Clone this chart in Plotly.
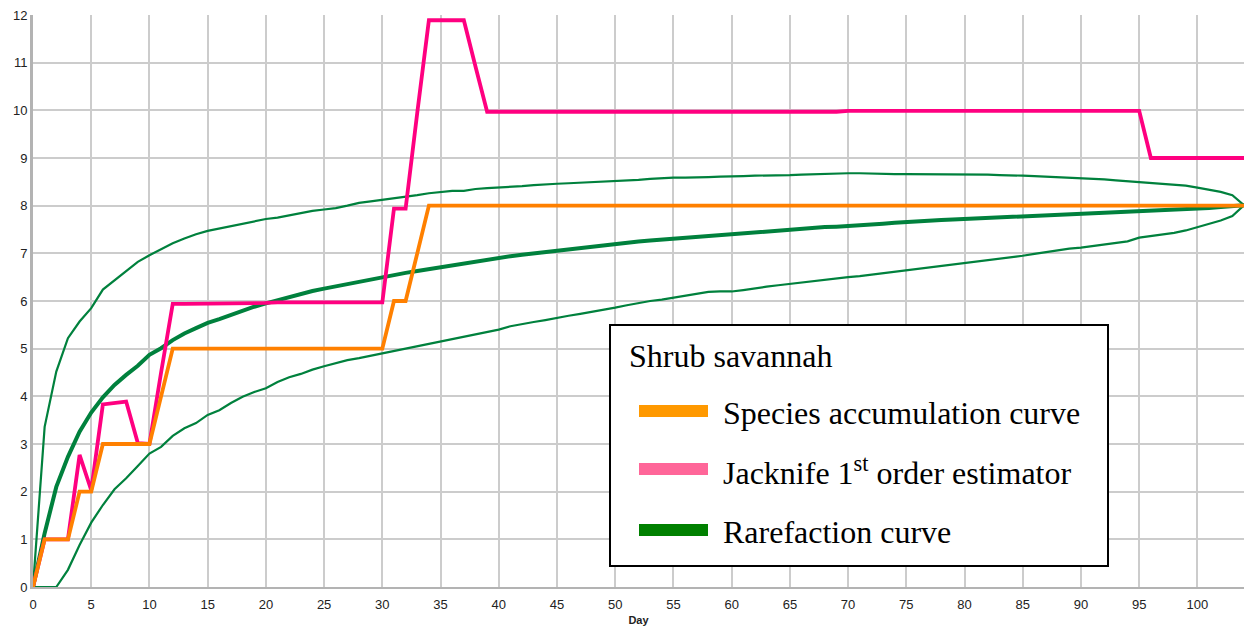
import plotly.graph_objects as go

days = list(range(0, 105))

species_accumulation = [
    0, 1, 1, 1, 2, 2, 3, 3, 3, 3, 3, 4, 5, 5, 5, 5, 5, 5, 5, 5,
    5, 5, 5, 5, 5, 5, 5, 5, 5, 5, 5, 6, 6, 7, 8, 8, 8, 8, 8, 8,
    8, 8, 8, 8, 8, 8, 8, 8, 8, 8, 8, 8, 8, 8, 8, 8, 8, 8, 8, 8,
    8, 8, 8, 8, 8, 8, 8, 8, 8, 8, 8, 8, 8, 8, 8, 8, 8, 8, 8, 8,
    8, 8, 8, 8, 8, 8, 8, 8, 8, 8, 8, 8, 8, 8, 8, 8, 8, 8, 8, 8,
    8, 8, 8, 8, 8,
]

jacknife_1st = [
    0, 1, 1, 1, 2.77, 2.03, 3.83, 3.86, 3.89, 3.02, 3.0, 4.5, 5.94, 5.94, 5.94, 5.96, 5.96, 5.96, 5.96, 5.96,
    5.96, 5.97, 5.97, 5.97, 5.97, 5.97, 5.97, 5.97, 5.97, 5.97, 5.97, 7.94, 7.94, 9.95, 11.89, 11.89, 11.89, 11.89, 10.92, 9.97,
    9.97, 9.97, 9.97, 9.97, 9.97, 9.97, 9.97, 9.97, 9.97, 9.97, 9.97, 9.97, 9.97, 9.97, 9.97, 9.97, 9.97, 9.97, 9.97, 9.97,
    9.97, 9.97, 9.97, 9.97, 9.97, 9.97, 9.97, 9.97, 9.97, 9.97, 9.99, 9.99, 9.99, 9.99, 9.99, 9.99, 9.99, 9.99, 9.99, 9.99,
    9.99, 9.99, 9.99, 9.99, 9.99, 9.99, 9.99, 9.99, 9.99, 9.99, 9.99, 9.99, 9.99, 9.99, 9.99, 9.99, 9.0, 9.0, 9.0, 9.0,
    9.0, 9.0, 9.0, 9.0, 9.0,
]

rarefaction_mean = [
    0, 1.13, 2.10, 2.73, 3.26, 3.66, 3.98, 4.24, 4.45, 4.64, 4.87, 5.01, 5.18, 5.32, 5.43, 5.54, 5.62, 5.71, 5.81, 5.88,
    5.95, 6.02, 6.09, 6.15, 6.21, 6.26, 6.31, 6.36, 6.41, 6.45, 6.50, 6.55, 6.59, 6.63, 6.67, 6.72, 6.76, 6.79, 6.83, 6.87,
    6.91, 6.94, 6.97, 7.00, 7.03, 7.06, 7.09, 7.11, 7.14, 7.16, 7.19, 7.22, 7.25, 7.27, 7.29, 7.31, 7.33, 7.35, 7.37, 7.39,
    7.40, 7.42, 7.44, 7.46, 7.48, 7.50, 7.51, 7.53, 7.55, 7.56, 7.57, 7.59, 7.61, 7.62, 7.64, 7.66, 7.67, 7.68, 7.70, 7.71,
    7.72, 7.73, 7.74, 7.76, 7.77, 7.79, 7.80, 7.81, 7.82, 7.83, 7.84, 7.85, 7.86, 7.87, 7.88, 7.89, 7.90, 7.91, 7.92, 7.93,
    7.94, 7.95, 7.97, 7.99, 8.01,
]

rarefaction_upper = [
    0, 3.36, 4.52, 5.22, 5.57, 5.85, 6.24, 6.43, 6.63, 6.82, 6.96, 7.09, 7.21, 7.31, 7.40, 7.47, 7.52, 7.58, 7.63, 7.68,
    7.72, 7.75, 7.80, 7.85, 7.89, 7.92, 7.95, 8.00, 8.06, 8.09, 8.12, 8.16, 8.18, 8.22, 8.26, 8.29, 8.31, 8.31, 8.35, 8.37,
    8.38, 8.39, 8.41, 8.43, 8.45, 8.46, 8.47, 8.48, 8.49, 8.50, 8.51, 8.52, 8.54, 8.56, 8.58, 8.59, 8.59, 8.59, 8.60, 8.61,
    8.61, 8.62, 8.63, 8.63, 8.63, 8.64, 8.65, 8.66, 8.67, 8.68, 8.68, 8.68, 8.67, 8.66, 8.66, 8.66, 8.66, 8.66, 8.66, 8.66,
    8.66, 8.66, 8.65, 8.64, 8.64, 8.63, 8.62, 8.61, 8.60, 8.58, 8.57, 8.56, 8.55, 8.53, 8.51, 8.49, 8.47, 8.45, 8.44, 8.42,
    8.38, 8.34, 8.29, 8.22, 8.01,
]

rarefaction_lower = [
    0, 0, 0, 0.36, 0.88, 1.35, 1.72, 2.05, 2.28, 2.54, 2.80, 2.94, 3.17, 3.33, 3.44, 3.61, 3.71, 3.86, 3.99, 4.09,
    4.17, 4.30, 4.40, 4.47, 4.56, 4.63, 4.69, 4.76, 4.80, 4.85, 4.91, 4.96, 5.01, 5.06, 5.11, 5.16, 5.21, 5.26, 5.31, 5.35,
    5.40, 5.47, 5.52, 5.56, 5.60, 5.65, 5.69, 5.73, 5.77, 5.81, 5.86, 5.91, 5.96, 6.00, 6.03, 6.07, 6.11, 6.15, 6.19, 6.20,
    6.20, 6.23, 6.27, 6.30, 6.33, 6.36, 6.39, 6.42, 6.45, 6.47, 6.50, 6.52, 6.55, 6.58, 6.61, 6.64, 6.68, 6.71, 6.74, 6.77,
    6.80, 6.83, 6.86, 6.89, 6.92, 6.95, 6.99, 7.03, 7.07, 7.10, 7.12, 7.15, 7.18, 7.21, 7.25, 7.33, 7.36, 7.40, 7.43, 7.48,
    7.55, 7.62, 7.69, 7.78, 8.01,
]

legend_title = "Shrub savannah"
legend_labels = ["Species accumulation curve", "Jacknife 1<sup>st</sup> order estimator", "Rarefaction curve"]
legend_colors = ["#ff9900", "#ff6699", "#008000"]

GREEN = "#00813d"
fig = go.Figure()
fig.add_trace(go.Scatter(x=days, y=rarefaction_upper, mode="lines", line=dict(color=GREEN, width=2.2), showlegend=False))
fig.add_trace(go.Scatter(x=days, y=rarefaction_lower, mode="lines", line=dict(color=GREEN, width=2.2), showlegend=False))
fig.add_trace(go.Scatter(x=days, y=rarefaction_mean, mode="lines", line=dict(color=GREEN, width=4), showlegend=False))
fig.add_trace(go.Scatter(x=days, y=jacknife_1st, mode="lines", line=dict(color="#ff0080", width=3.8), showlegend=False))
fig.add_trace(go.Scatter(x=days, y=species_accumulation, mode="lines", line=dict(color="#ff8000", width=3.8), showlegend=False))

W, H = 1251, 630
L, R, T, B = 33, 7, 15, 43
pw, ph = W - L - R, H - T - B


def px(xp):
    return (xp - L) / pw


def py(yp):
    return (H - B - yp) / ph


LEGEND_FONT = dict(family="Liberation Serif", size=32, color="black")
shapes = [
    dict(type="rect", xref="paper", yref="paper", x0=px(610), x1=px(1108), y0=py(566), y1=py(325),
         line=dict(color="black", width=2), fillcolor="white", layer="above"),
]
annotations = [
    dict(xref="paper", yref="paper", x=px(627), y=py(356), text=legend_title, showarrow=False,
         xanchor="left", yanchor="middle", font=LEGEND_FONT),
]
swatch_y = [411, 469, 530]
for lab, col, yy in zip(legend_labels, legend_colors, swatch_y):
    shapes.append(dict(type="rect", xref="paper", yref="paper", x0=px(639), x1=px(708), y0=py(yy + 6), y1=py(yy - 6),
                       line=dict(width=0), fillcolor=col, layer="above"))
    annotations.append(dict(xref="paper", yref="paper", x=px(721), y=py(yy + 2), text=lab, showarrow=False,
                            xanchor="left", yanchor="middle", font=LEGEND_FONT))

fig.update_layout(
    width=W, height=H, autosize=False,
    margin=dict(l=L, r=R, t=T, b=B, pad=0, autoexpand=False),
    paper_bgcolor="white", plot_bgcolor="white",
    font=dict(family="Liberation Sans", size=13, color="#222222"),
    shapes=shapes, annotations=annotations,
    showlegend=False,
)
fig.update_xaxes(range=[0, 104], tick0=0, dtick=5, showgrid=True, gridcolor="#cccccc", gridwidth=1.5,
                 zeroline=False, showline=True, linecolor="#b3b3b3", linewidth=2, automargin=False,
                 tickfont=dict(size=13, color="#222222"), ticklabelstandoff=4,
                 ticks="", title=dict(text="<b>Day</b>", font=dict(size=11, color="#222222"), standoff=6))
fig.update_yaxes(range=[0, 12], tick0=0, dtick=1, showgrid=True, gridcolor="#cccccc", gridwidth=1.5,
                 zeroline=False, showline=True, linecolor="#b3b3b3", linewidth=3, ticks="", automargin=False,
                 tickfont=dict(size=13, color="#222222"))

fig.write_html("out.html", config={"responsive": False, "displayModeBar": False},
               post_script="document.body.style.margin='0px';")
